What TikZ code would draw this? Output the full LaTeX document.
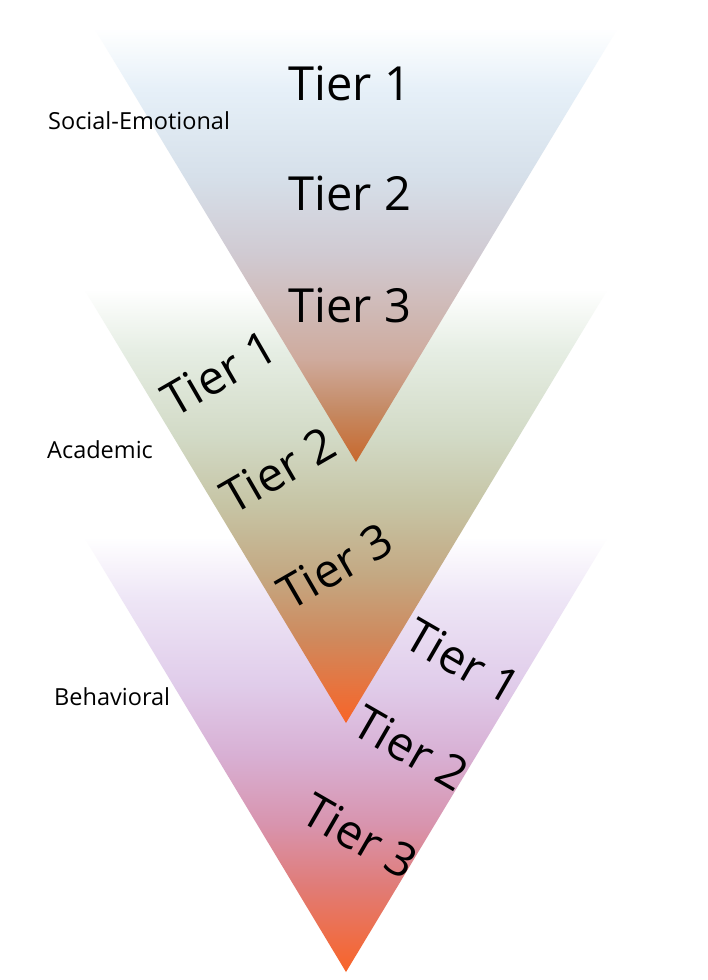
\documentclass[tikz,border=0pt]{standalone}
\usepackage{fontspec}
\setmainfont{Open Sans}
\definecolor{cA0}{HTML}{FFFFFF}
\definecolor{cA1}{HTML}{E6F0F8}
\definecolor{cA2}{HTML}{D6E0EA}
\definecolor{cA3}{HTML}{D0CAD2}
\definecolor{cA4}{HTML}{CFAB9E}
\definecolor{cA5}{HTML}{C58A64}
\definecolor{cA6}{HTML}{C8682C}
\definecolor{cB0}{HTML}{FFFFFF}
\definecolor{cB1}{HTML}{E6EEE4}
\definecolor{cB2}{HTML}{D2DAC6}
\definecolor{cB3}{HTML}{C6C4A4}
\definecolor{cB4}{HTML}{C4A882}
\definecolor{cB5}{HTML}{CE8A5E}
\definecolor{cB6}{HTML}{F86428}
\definecolor{cC0}{HTML}{FFFFFF}
\definecolor{cC1}{HTML}{EEE6F6}
\definecolor{cC2}{HTML}{E0CCEA}
\definecolor{cC3}{HTML}{D8B0D4}
\definecolor{cC4}{HTML}{D894AE}
\definecolor{cC5}{HTML}{E07C78}
\definecolor{cC6}{HTML}{F86428}
\pgfdeclareverticalshading{shadeA}{100bp}{%
 color(0bp)=(cA6); color(25bp)=(cA6); color(31bp)=(cA5); color(37bp)=(cA4);
 color(49bp)=(cA3); color(58bp)=(cA2); color(68bp)=(cA1); color(75bp)=(cA0); color(100bp)=(cA0)}
\pgfdeclareverticalshading{shadeB}{100bp}{%
 color(0bp)=(cB6); color(25bp)=(cB6); color(35bp)=(cB5); color(42bp)=(cB4);
 color(50bp)=(cB3); color(58bp)=(cB2); color(68bp)=(cB1); color(75bp)=(cB0); color(100bp)=(cB0)}
\pgfdeclareverticalshading{shadeC}{100bp}{%
 color(0bp)=(cC6); color(25bp)=(cC6); color(35bp)=(cC5); color(42bp)=(cC4);
 color(50bp)=(cC3); color(58bp)=(cC2); color(68bp)=(cC1); color(75bp)=(cC0); color(100bp)=(cC0)}
\tikzset{
  tier/.style={font=\fontsize{47}{52}\selectfont, inner sep=0pt, text=black},
  area/.style={font=\fontsize{23.5}{26}\selectfont, inner sep=0pt, anchor=west, text=black}
}
\begin{document}
\begin{tikzpicture}[x=1pt,y=1pt]
\useasboundingbox[fill=white] (0,0) rectangle (708,-980);
% triangles, bottom first
\shade[shading=shadeC] (84,-537) -- (608,-537) -- (346,-972) -- cycle;
\shade[shading=shadeB] (84,-289) -- (608,-289) -- (346,-723) -- cycle;
\shade[shading=shadeA] (94,-28) -- (618,-28) -- (356,-462) -- cycle;
% labels
\node[area] (se) at (48,-121) {Social-Emotional};
\node[area] (ac) at (47,-450) {Academic};
\node[area] (be) at (54,-697) {Behavioral};
% tier labels T1
\node[tier] (a1) at (350,-83) {Tier 1};
\node[tier] (a2) at (350,-193) {Tier 2};
\node[tier] (a3) at (350,-305) {Tier 3};
% tier labels T2
\node[tier, rotate=30] (b1) at (219,-373) {Tier 1};
\node[tier, rotate=30] (b2) at (278,-470) {Tier 2};
\node[tier, rotate=30] (b3) at (335,-566) {Tier 3};
% tier labels T3
\node[tier, rotate=-30] (c1) at (463,-661) {Tier 1};
\node[tier, rotate=-30] (c2) at (411,-748) {Tier 2};
\node[tier, rotate=-30] (c3) at (360,-836) {Tier 3};
\end{tikzpicture}
\end{document}
